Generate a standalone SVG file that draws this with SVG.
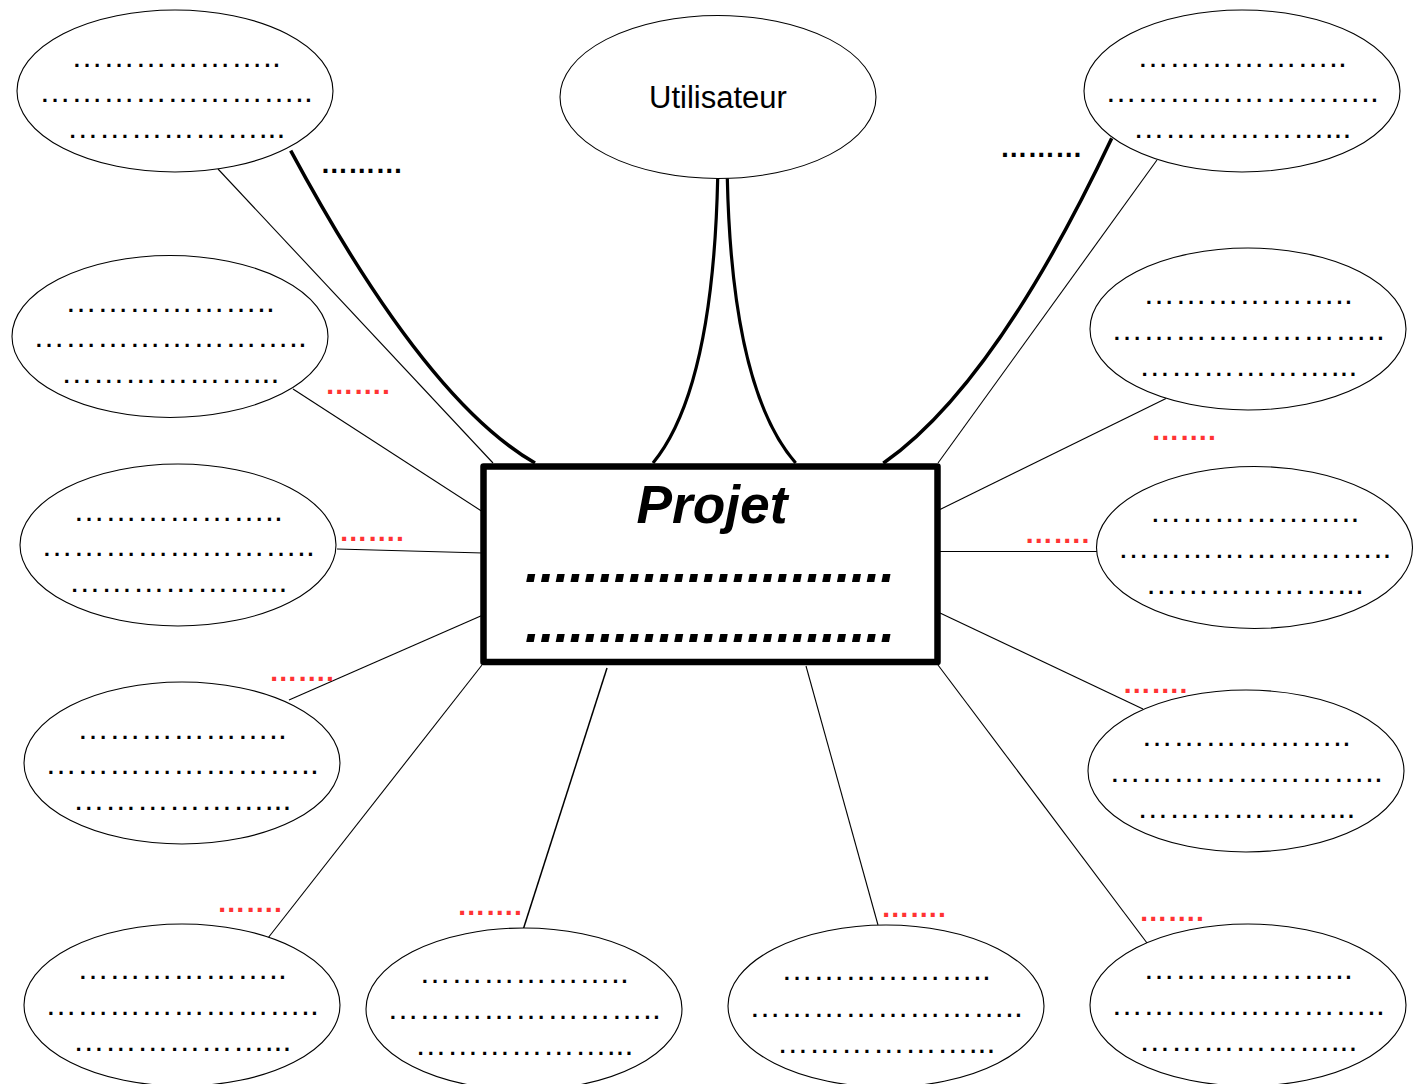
<svg xmlns="http://www.w3.org/2000/svg" width="1421" height="1084" viewBox="0 0 1421 1084">
<style>
.bg{fill:#fff}
.el{fill:#fff;stroke:#000;stroke-width:1.1}
.dots{font-family:"Liberation Sans",Arial,sans-serif;font-size:32px;fill:#000;text-anchor:middle}
.thin{stroke:#000;stroke-width:1.1;fill:none}
.thick{stroke:#000;stroke-width:3.5;fill:none}
.red{font-family:"Liberation Sans",Arial,sans-serif;font-size:28.5px;font-weight:bold;fill:#ff3333}
.blk{font-family:"Liberation Sans",Arial,sans-serif;font-size:27.5px;font-weight:bold;fill:#000}
.box{fill:#fff;stroke:#000;stroke-width:6.5;stroke-linejoin:round}
.big{font-family:"Liberation Sans",Arial,sans-serif;font-size:53.3px;font-weight:bold;font-style:italic;fill:#000;text-anchor:middle}
.user{font-family:"Liberation Sans",Arial,sans-serif;font-size:31px;fill:#000;text-anchor:middle}
</style>
<rect class="bg" x="0" y="0" width="1421" height="1084"/>

<g id="connectors">
  <line class="thin" x1="218" y1="169" x2="493" y2="463"/>
  <line class="thin" x1="293" y1="389" x2="483" y2="512"/>
  <line class="thin" x1="337" y1="549" x2="483" y2="553"/>
  <line class="thin" x1="289" y1="700" x2="483" y2="615"/>
  <line class="thin" x1="268" y1="938" x2="482" y2="665"/>
  <line class="thin" x1="523" y1="930" x2="607" y2="668" style="stroke-width:1.5"/>
  <line class="thin" x1="806" y1="666" x2="878" y2="925"/>
  <line class="thin" x1="938" y1="665" x2="1147" y2="943"/>
  <line class="thin" x1="940" y1="613" x2="1143" y2="709"/>
  <line class="thin" x1="940" y1="551.5" x2="1098" y2="551.5"/>
  <line class="thin" x1="940" y1="509.5" x2="1166" y2="398.5"/>
  <line class="thin" x1="938" y1="463" x2="1157" y2="160"/>
  <path class="thick" d="M290.7,150.7 Q425,400 535,463"/>
  <path class="thick" d="M1111.7,138.3 Q995,385 883.3,463.3"/>
  <path class="thick" d="M717.7,178 Q713,390 653,463" style="stroke-width:3.2"/>
  <path class="thick" d="M727.3,178 Q732,390 795.7,463" style="stroke-width:3.2"/>
</g>

<g id="labels">
  <text class="blk" x="320.5" y="173">&#8230;&#8230;&#8230;</text>
  <text class="blk" x="1000" y="156.5">&#8230;&#8230;&#8230;</text>
  <text class="red" x="325" y="394">&#8230;&#8230;.</text>
  <text class="red" x="339" y="540.5">&#8230;&#8230;.</text>
  <text class="red" x="269" y="680.5">&#8230;&#8230;.</text>
  <text class="red" x="217" y="912">&#8230;&#8230;.</text>
  <text class="red" x="457" y="915">&#8230;&#8230;.</text>
  <text class="red" x="881" y="917">&#8230;&#8230;.</text>
  <text class="red" x="1139" y="921">&#8230;&#8230;.</text>
  <text class="red" x="1122.5" y="693">&#8230;&#8230;.</text>
  <text class="red" x="1024.5" y="542.5">&#8230;&#8230;.</text>
  <text class="red" x="1151" y="439.5">&#8230;&#8230;.</text>
</g>

<g id="projet">
  <rect class="box" x="483.5" y="466.5" width="454" height="195.5"/>
  <text class="big" x="712" y="523">Projet</text>
  <text class="big" x="710" y="582">.........................</text>
  <text class="big" x="710" y="641.5">.........................</text>
</g>

<g id="utilisateur">
  <ellipse class="el" cx="718" cy="97" rx="158" ry="81.5"/>
  <text class="user" x="718" y="108">Utilisateur</text>
</g>

<g id="node-tl">
  <ellipse class="el" cx="175" cy="91" rx="158" ry="81"/>
  <text class="dots" x="176" y="66.6">&#8230;&#8230;&#8230;&#8230;&#8230;&#8230;..</text>
  <text class="dots" x="176" y="101.6">&#8230;&#8230;&#8230;&#8230;&#8230;&#8230;&#8230;&#8230;..</text>
  <text class="dots" x="176" y="137.6">&#8230;&#8230;&#8230;&#8230;&#8230;&#8230;...</text>
</g>
<g id="node-tr">
  <ellipse class="el" cx="1242" cy="91" rx="158" ry="81"/>
  <text class="dots" x="1242" y="66.6">&#8230;&#8230;&#8230;&#8230;&#8230;&#8230;..</text>
  <text class="dots" x="1242" y="101.6">&#8230;&#8230;&#8230;&#8230;&#8230;&#8230;&#8230;&#8230;..</text>
  <text class="dots" x="1242" y="137.6">&#8230;&#8230;&#8230;&#8230;&#8230;&#8230;...</text>
</g>
<g id="node-l2">
  <ellipse class="el" cx="170" cy="336.5" rx="158" ry="81"/>
  <text class="dots" x="170" y="312">&#8230;&#8230;&#8230;&#8230;&#8230;&#8230;..</text>
  <text class="dots" x="170" y="347">&#8230;&#8230;&#8230;&#8230;&#8230;&#8230;&#8230;&#8230;..</text>
  <text class="dots" x="170" y="383">&#8230;&#8230;&#8230;&#8230;&#8230;&#8230;...</text>
</g>
<g id="node-l3">
  <ellipse class="el" cx="178" cy="545" rx="158" ry="81"/>
  <text class="dots" x="178" y="520.5">&#8230;&#8230;&#8230;&#8230;&#8230;&#8230;..</text>
  <text class="dots" x="178" y="555.5">&#8230;&#8230;&#8230;&#8230;&#8230;&#8230;&#8230;&#8230;..</text>
  <text class="dots" x="178" y="591.5">&#8230;&#8230;&#8230;&#8230;&#8230;&#8230;...</text>
</g>
<g id="node-l4">
  <ellipse class="el" cx="182" cy="763" rx="158" ry="81"/>
  <text class="dots" x="182" y="738.5">&#8230;&#8230;&#8230;&#8230;&#8230;&#8230;..</text>
  <text class="dots" x="182" y="773.5">&#8230;&#8230;&#8230;&#8230;&#8230;&#8230;&#8230;&#8230;..</text>
  <text class="dots" x="182" y="809.5">&#8230;&#8230;&#8230;&#8230;&#8230;&#8230;...</text>
</g>
<g id="node-b1">
  <ellipse class="el" cx="182" cy="1005" rx="158" ry="81"/>
  <text class="dots" x="182" y="979">&#8230;&#8230;&#8230;&#8230;&#8230;&#8230;..</text>
  <text class="dots" x="182" y="1014.5">&#8230;&#8230;&#8230;&#8230;&#8230;&#8230;&#8230;&#8230;..</text>
  <text class="dots" x="182" y="1051">&#8230;&#8230;&#8230;&#8230;&#8230;&#8230;...</text>
</g>
<g id="node-b2">
  <ellipse class="el" cx="524" cy="1009" rx="158" ry="81"/>
  <text class="dots" x="524" y="983">&#8230;&#8230;&#8230;&#8230;&#8230;&#8230;..</text>
  <text class="dots" x="524" y="1018.5">&#8230;&#8230;&#8230;&#8230;&#8230;&#8230;&#8230;&#8230;..</text>
  <text class="dots" x="524" y="1055">&#8230;&#8230;&#8230;&#8230;&#8230;&#8230;...</text>
</g>
<g id="node-b3">
  <ellipse class="el" cx="886" cy="1006" rx="158" ry="81"/>
  <text class="dots" x="886" y="980">&#8230;&#8230;&#8230;&#8230;&#8230;&#8230;..</text>
  <text class="dots" x="886" y="1016.5">&#8230;&#8230;&#8230;&#8230;&#8230;&#8230;&#8230;&#8230;..</text>
  <text class="dots" x="886" y="1052.5">&#8230;&#8230;&#8230;&#8230;&#8230;&#8230;...</text>
</g>
<g id="node-b4">
  <ellipse class="el" cx="1248" cy="1005" rx="158" ry="81"/>
  <text class="dots" x="1248" y="979">&#8230;&#8230;&#8230;&#8230;&#8230;&#8230;..</text>
  <text class="dots" x="1248" y="1014.5">&#8230;&#8230;&#8230;&#8230;&#8230;&#8230;&#8230;&#8230;..</text>
  <text class="dots" x="1248" y="1051">&#8230;&#8230;&#8230;&#8230;&#8230;&#8230;...</text>
</g>
<g id="node-r2">
  <ellipse class="el" cx="1248" cy="329" rx="158" ry="81"/>
  <text class="dots" x="1248" y="303.6">&#8230;&#8230;&#8230;&#8230;&#8230;&#8230;..</text>
  <text class="dots" x="1248" y="339.6">&#8230;&#8230;&#8230;&#8230;&#8230;&#8230;&#8230;&#8230;..</text>
  <text class="dots" x="1248" y="375.6">&#8230;&#8230;&#8230;&#8230;&#8230;&#8230;...</text>
</g>
<g id="node-r3">
  <ellipse class="el" cx="1254.5" cy="547.5" rx="158" ry="81"/>
  <text class="dots" x="1254.5" y="521.6">&#8230;&#8230;&#8230;&#8230;&#8230;&#8230;..</text>
  <text class="dots" x="1254.5" y="557.6">&#8230;&#8230;&#8230;&#8230;&#8230;&#8230;&#8230;&#8230;..</text>
  <text class="dots" x="1254.5" y="593.6">&#8230;&#8230;&#8230;&#8230;&#8230;&#8230;...</text>
</g>
<g id="node-r4">
  <ellipse class="el" cx="1246" cy="771" rx="158" ry="81"/>
  <text class="dots" x="1246" y="745.6">&#8230;&#8230;&#8230;&#8230;&#8230;&#8230;..</text>
  <text class="dots" x="1246" y="781.6">&#8230;&#8230;&#8230;&#8230;&#8230;&#8230;&#8230;&#8230;..</text>
  <text class="dots" x="1246" y="817.6">&#8230;&#8230;&#8230;&#8230;&#8230;&#8230;...</text>
</g>
</svg>
